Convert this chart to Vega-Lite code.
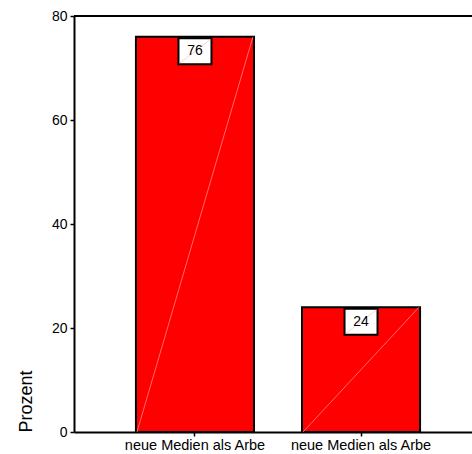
{
  "$schema": "https://vega.github.io/schema/vega-lite/v6.json",
  "autosize": "none",
  "width": 398,
  "height": 416,
  "padding": {"left": 74, "top": 16, "right": 0, "bottom": 22},
  "background": "white",
  "config": {
    "view": {"stroke": null},
    "font": "Liberation Sans",
    "axis": {"grid": false, "domainColor": "black", "domainWidth": 2, "tickColor": "black", "tickWidth": 1.5, "tickSize": 4, "labelColor": "black", "labelFont": "Liberation Sans", "titleFont": "Liberation Sans", "titleColor": "black", "titleFontWeight": "normal"}
  },
  "data": {"values": [
    {"kategorie": "neue Medien als Arbe", "prozent": 76},
    {"kategorie": "neue Medien als Arbe ", "prozent": 24}
  ]},
  "layer": [
    {
      "mark": {"type": "bar", "color": "#ff0000", "stroke": "black", "strokeWidth": 2},
      "encoding": {
        "x": {"field": "kategorie", "type": "nominal", "sort": null,
          "scale": {"range": [0, 408], "paddingInner": 0.289, "paddingOuter": 0.373, "align": 0.5},
          "axis": {"title": null, "labelAngle": 0, "labelFontSize": 14.5, "labelPadding": 2}},
        "y": {"field": "prozent", "type": "quantitative",
          "scale": {"domain": [0, 80], "nice": false},
          "axis": {"values": [0, 20, 40, 60, 80], "labelFontSize": 14, "labelPadding": 3,
            "title": "Prozent", "titleFontSize": 18, "titleAngle": 270, "titleX": -43, "titleY": 416,
            "titleAlign": "left", "titleBaseline": "alphabetic"}}
      }
    },
    {
      "mark": {"type": "rule", "stroke": "#ff9a9a", "strokeWidth": 0.7, "xOffset": 58, "x2Offset": -58},
      "encoding": {
        "x": {"field": "kategorie", "type": "nominal", "sort": null},
        "x2": {"field": "kategorie"},
        "y": {"field": "prozent", "type": "quantitative"},
        "y2": {"datum": 0}
      }
    },
    {
      "mark": {"type": "bar", "width": 33, "fill": "white", "stroke": "black", "strokeWidth": 2, "yOffset": 1.5, "y2Offset": 27.5},
      "encoding": {
        "x": {"field": "kategorie", "type": "nominal", "sort": null},
        "y": {"field": "prozent", "type": "quantitative"},
        "y2": {"field": "prozent"}
      }
    },
    {
      "mark": {"type": "rule", "stroke": "#ffb4b4", "strokeWidth": 0.6, "xOffset": 15.5, "x2Offset": -15.5, "yOffset": 2.5, "y2Offset": 26.5},
      "encoding": {
        "x": {"field": "kategorie", "type": "nominal", "sort": null},
        "x2": {"field": "kategorie"},
        "y": {"field": "prozent", "type": "quantitative"},
        "y2": {"field": "prozent"}
      }
    },
    {
      "mark": {"type": "text", "fontSize": 14, "color": "black", "baseline": "middle", "align": "center", "yOffset": 14.5},
      "encoding": {
        "x": {"field": "kategorie", "type": "nominal", "sort": null},
        "y": {"field": "prozent", "type": "quantitative"},
        "text": {"field": "prozent", "type": "quantitative"}
      }
    },
    {
      "mark": {"type": "rule", "color": "black", "strokeWidth": 2},
      "encoding": {
        "y": {"datum": 80, "type": "quantitative"}
      }
    }
  ]
}
